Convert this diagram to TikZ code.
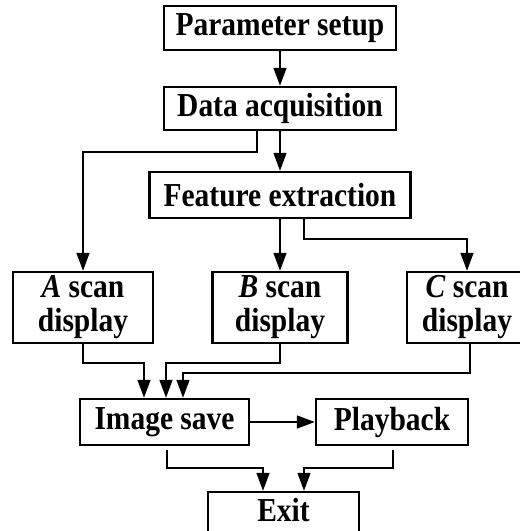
\documentclass[tikz,border=0pt]{standalone}
\usepackage{fontspec}
\setmainfont{Liberation Serif}[FakeStretch=0.88]
\usetikzlibrary{arrows.meta}
\begin{document}
\begin{tikzpicture}[x=1pt,y=-1pt,
  box/.style={draw, line width=2.4pt, inner sep=0pt, align=center,
    font=\fontsize{33.5}{34}\selectfont\bfseries},
  arr/.style={line width=1.6pt, -{Triangle[length=18pt,width=13pt]}}]
\useasboundingbox (0,0) rectangle (520,531);
\clip (0,0) rectangle (520,531);
\node[box, minimum width=232pt, minimum height=44pt] (ps) at (280,28) {Parameter setup};
\node[box, minimum width=232pt, minimum height=43pt] (da) at (280,108.5) {Data acquisition};
\node[box, minimum width=261pt, minimum height=46pt] (fe) at (280,195) {Feature extraction};
\node[box, minimum width=140pt, minimum height=71pt] (a) at (83,307.5) {\textit{A} scan\\display};
\node[box, minimum width=135pt, minimum height=71pt] (b) at (280,307.5) {\textit{B} scan\\display};
\node[box, minimum width=120pt, minimum height=71pt] (c) at (467,307.5) {\textit{C} scan\\display};
\node[box, minimum width=169pt, minimum height=46pt] (is) at (164.5,422) {Image save};
\node[box, minimum width=152pt, minimum height=46pt] (pb) at (392,422) {Playback};
\node[box, minimum width=151pt, minimum height=46pt] (ex) at (283.5,515) {\raisebox{5pt}[\height][\depth]{Exit}};
\draw[arr] (ps.south) -- (da.north);
\draw[arr] ([xshift=-23pt]da.south) -- ++(0,21) -| (a.north);
\draw[arr] (da.south) -- (fe.north);
\draw[arr] (fe.south) -- (b.north);
\draw[arr] ([xshift=24pt]fe.south) -- ++(0,20) -| (c.north);
\draw[arr] (a.south) -- ++(0,19) -| ([xshift=-20.5pt]is.north);
\draw[arr] (b.south) -- ++(0,19) -| ([xshift=1.5pt]is.north);
\draw[arr] ([xshift=3pt]c.south) -- ++(0,29) -| ([xshift=18.5pt]is.north);
\draw[arr] (is.east) -- (pb.west);
\draw[arr] ([xshift=2.5pt,yshift=-4pt]is.south) -- ++(0,18) -| ([xshift=-20.5pt]ex.north);
\draw[arr] ([xshift=1pt,yshift=-4pt]pb.south) -- ++(0,18) -| ([xshift=20.5pt]ex.north);
\end{tikzpicture}
\end{document}
